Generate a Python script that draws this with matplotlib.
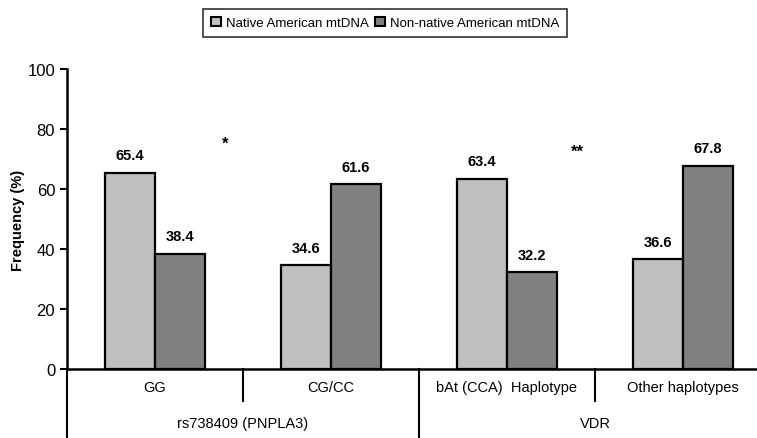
import numpy as np
from matplotlib import pyplot as plt
from matplotlib.patches import Patch
from matplotlib.transforms import blended_transform_factory

plt.rcParams['font.family'] = ['Liberation Sans', 'DejaVu Sans']

categories = ['GG', 'CG/CC', 'bAt (CCA)  Haplotype', 'Other haplotypes']
groups = ['rs738409 (PNPLA3)', 'VDR']
native = [65.4, 34.6, 63.4, 36.6]
non_native = [38.4, 61.6, 32.2, 67.8]
stars = ['*', '**']
star_y = [75.3, 72.7]
series_names = ['Native American mtDNA', 'Non-native American mtDNA']

light = '#c0c0c0'
dark = '#808080'

fig = plt.figure(figsize=(7.57, 4.39), dpi=100)
ax = fig.add_axes([67/757, 69/439, 704/757, 300/439])

x = np.arange(len(categories))
w = 0.284
ax.bar(x - w/2, native, width=w, color=light, edgecolor='black', linewidth=1.6, zorder=3)
ax.bar(x + w/2, non_native, width=w, color=dark, edgecolor='black', linewidth=1.6, zorder=3)

for xi, v in zip(x - w/2, native):
    ax.text(xi, v + 3.5, f'{v:.1f}', ha='center', va='bottom', fontsize=10.5, fontweight='bold')
for xi, v in zip(x + w/2, non_native):
    ax.text(xi, v + 3.5, f'{v:.1f}', ha='center', va='bottom', fontsize=10.5, fontweight='bold')

# significance stars between category pairs
for gi, (s, sy) in enumerate(zip(stars, star_y)):
    ax.text(2*gi + 0.40, sy, s, ha='center', va='center', fontsize=12, fontweight='bold')

ax.set_xlim(-0.5, 3.5)
ax.set_ylim(0, 100)
ax.set_yticks([0, 20, 40, 60, 80, 100])
ax.tick_params(axis='y', labelsize=12, width=1.5, length=5, direction='out')
ax.set_xticks([])
ax.set_ylabel('Frequency (%)', fontsize=10.5, fontweight='bold', labelpad=2)
ax.spines['right'].set_visible(False)
ax.spines['top'].set_visible(False)
ax.spines['left'].set_linewidth(1.8)
ax.spines['bottom'].set_linewidth(1.8)

# category table under the axis
tr = blended_transform_factory(ax.transData, ax.transAxes)
row1 = -0.107
row2 = -0.24
for xb in [0.5, 2.5]:
    ax.plot([xb, xb], [0, row1], color='black', lw=1.5, transform=tr, clip_on=False)
for xb in [-0.5, 1.5]:
    ax.plot([xb, xb], [0, row2], color='black', lw=1.5, transform=tr, clip_on=False)
for xi, c in zip(x, categories):
    ax.text(xi, -0.06, c, ha='center', va='center', fontsize=10.5, transform=tr)
for gi, g in enumerate(groups):
    ax.text(2*gi + 0.5, -0.18, g, ha='center', va='center', fontsize=10.5, transform=tr)

handles = [Patch(facecolor=light, edgecolor='black', linewidth=1.5),
           Patch(facecolor=dark, edgecolor='black', linewidth=1.5)]
leg = fig.legend(handles, series_names, loc='upper center', bbox_to_anchor=(0.509, 0.992),
                 ncol=2, fontsize=9.5, frameon=True, fancybox=False, edgecolor='black',
                 handlelength=0.7, handleheight=0.7, handletextpad=0.4, columnspacing=0.5,
                 borderpad=0.6)
leg.get_frame().set_linewidth(1.2)

fig.savefig('out.png', dpi=100)
